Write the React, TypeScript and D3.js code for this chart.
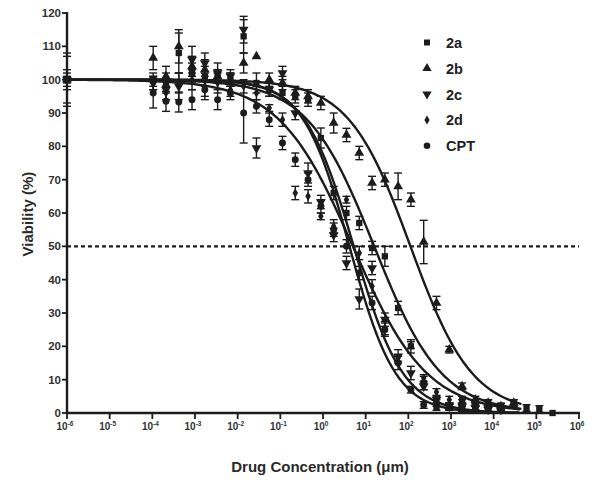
import React from "react";
import * as d3 from "d3";

// ---- data ----
const seriesNames = ["2a", "2b", "2c", "2d", "CPT"];

const log2a = [-6, -3.98, -3.68, -3.38, -3.07, -2.77, -2.47, -2.17, -1.86, -1.56, -1.26, -0.95, -0.65, -0.35, -0.05, 0.25, 0.55, 0.85, 1.15, 1.45, 1.76, 2.06, 2.36, 2.66, 2.96, 3.26, 3.57, 3.87, 4.17, 4.47, 4.77, 5.07, 5.38];
const val2a = [100, 100, 99, 108, 102, 101, 101, 100, 113, 99, 97, 96, 95, 94, 82.5, 66, 60, 57, 49.5, 47, 31.5, 20, 9, 1.8, 1.8, 4, 3, 3, 1.8, 3, 1.5, 1.2, 0];
const sem2a = [7, 2, 3, 6, 3, 3, 2, 2, 5, 3, 2, 2, 2, 2, 3, 2, 2, 2, 2, 3, 2, 2, 2, 1, 1, 1, 1, 1, 1, 1, 1, 1, 0.5];

const log2b = [-6, -3.98, -3.68, -3.38, -3.07, -2.77, -2.47, -2.17, -1.86, -1.56, -1.26, -0.95, -0.65, -0.35, -0.05, 0.25, 0.55, 0.85, 1.15, 1.45, 1.76, 2.06, 2.36, 2.66, 2.96, 3.26, 3.57, 3.87, 4.17, 4.47];
const val2b = [100, 106.5, 101, 110, 104, 103, 101, 100, 105, 107, 100, 99, 96, 95, 93, 87, 83.4, 78, 69, 70, 68, 64, 51.3, 33, 19, 8, 4, 3, 2, 3];
const sem2b = [2, 3.5, 3, 5, 3, 3, 2, 2, 3, 0, 2, 2, 2, 2, 2, 3, 2, 2, 2, 2, 4, 2, 6.5, 2, 1, 1, 1, 1, 1, 1];

const log2c = [-6, -3.98, -3.68, -3.38, -3.07, -2.77, -2.47, -2.17, -1.86, -1.56, -1.26, -0.95, -0.65, -0.35, -0.05, 0.25, 0.55, 0.85, 1.15, 1.45, 1.76, 2.06, 2.36, 2.66, 2.96, 3.26, 3.57, 3.87, 4.17];
const val2c = [100, 99, 97, 98, 106, 105, 102, 101, 115, 79.5, 97, 102, 90, 72, 63.3, 53.4, 45, 34.2, 43.5, 28, 17, 12, 8, 4, 2, 2, 1.5, 1, 1];
const sem2c = [3, 2, 3, 4, 4, 3, 3, 2, 4, 3, 2, 2, 2, 3, 2, 2, 2, 3, 2, 2, 2, 2, 1, 1, 1, 1, 1, 1, 1];

const log2d = [-6, -3.98, -3.68, -3.38, -3.07, -2.77, -2.47, -2.17, -1.86, -1.56, -1.26, -0.95, -0.65, -0.35, -0.05, 0.25, 0.55, 0.85, 1.15, 1.45, 1.76, 2.06, 2.36, 2.66, 2.96, 3.26, 3.57, 3.87, 4.17];
const val2d = [100, 99, 96, 99, 100, 98, 99, 97, 98, 96, 91.5, 88, 66, 65, 59, 56, 64, 48, 38, 25.5, 16.5, 20.4, 10.5, 6.3, 4, 3, 2, 1.5, 1];
const sem2d = [8, 2, 2, 3, 3, 3, 3, 2, 2, 2, 1, 2, 2, 2, 1, 2, 1, 2, 2, 2, 1, 1, 1, 1, 1, 1, 1, 1, 1];

const logCPT = [-6, -3.98, -3.68, -3.38, -3.07, -2.77, -2.47, -2.17, -1.86, -1.56, -1.26, -0.95, -0.65, -0.35, -0.05, 0.25, 0.55, 0.85, 1.15, 1.45, 1.76, 2.06, 2.36, 2.66, 2.96, 3.26, 3.57, 3.87];
const valCPT = [100, 96, 93.5, 93.3, 94, 97, 94, 96, 90, 92, 88, 81, 76, 70, 62, 55, 50, 42, 33, 25, 15, 7, 2.4, 3, 2, 1.5, 1, 1];
const semCPT = [1, 4.5, 3, 3, 3, 3, 3, 2, 9, 2, 2, 2, 2, 2, 2, 2, 2, 2, 2, 2, 2, 1, 1, 1, 1, 1, 1, 1];

// fitted dose-response parameters (log10 IC50, Hill slope, last log10 concentration of fit)
const fitLogIC50 = [1.2, 2.05, 0.62, 0.72, 0.7];
const fitHill = [0.55, 0.6, 0.8, 0.75, 0.5];
const fitEndLog = [4.65, 4.65, 4.6, 4.6, 4.62];

const xTickExps = [-6, -5, -4, -3, -2, -1, 0, 1, 2, 3, 4, 5, 6];
const yTicks = [0, 10, 20, 30, 40, 50, 60, 70, 80, 90, 100, 110, 120];

const xTitle = "Drug Concentration (\u03bcm)";
const yTitle = "Viability (%)";

const allLogs = [log2a, log2b, log2c, log2d, logCPT];
const allVals = [val2a, val2b, val2c, val2d, valCPT];
const allSems = [sem2a, sem2b, sem2c, sem2d, semCPT];

const INK = "#1c1c1c";
const FONT = "Liberation Sans, Arial, sans-serif";

const x = d3.scaleLog().domain([1e-6, 1e6]).range([67, 579]);
const y = d3.scaleLinear().domain([0, 120]).range([413, 13]);

const symbolDefs = [
  { type: d3.symbolSquare, size: 40, rot: 0 },
  { type: d3.symbolTriangle, size: 42, rot: 0 },
  { type: d3.symbolTriangle, size: 42, rot: 180 },
  { type: d3.symbolDiamond, size: 26, rot: 0 },
  { type: d3.symbolCircle, size: 38, rot: 0 },
];

function hillCurve(i: number) {
  const pts: [number, number][] = [];
  const start = -6;
  const end = fitEndLog[i];
  const n = 300;
  for (let k = 0; k <= n; k++) {
    const lx = start + ((end - start) * k) / n;
    const v = 100 / (1 + Math.pow(10, fitHill[i] * (lx - fitLogIC50[i])));
    pts.push([x(Math.pow(10, lx)), y(v)]);
  }
  return d3.line()(pts) || "";
}

export default function App() {
  const sym = (i: number, scale = 1) =>
    d3.symbol().type(symbolDefs[i].type).size(symbolDefs[i].size * scale)() || "";
  return (
    <svg width={601} height={491} style={{ position: "absolute", left: 0, top: 0, background: "#fff" }} fontFamily={FONT}>
      <rect x={0} y={0} width={601} height={491} fill="#fff" />
      {/* dashed 50% line */}
      <line x1={x(1e-6)} x2={x(1e6)} y1={y(50)} y2={y(50)} stroke={INK} strokeWidth={2.2} strokeDasharray="4,3" />

      {/* fit curves */}
      {seriesNames.map((_, i) => (
        <path key={"c" + i} d={hillCurve(i)} fill="none" stroke={INK} strokeWidth={2.4} />
      ))}

      {/* error bars and points */}
      {seriesNames.map((_, i) => (
        <g key={"s" + i}>
          {allLogs[i].map((lx, j) => {
            const cx = x(Math.pow(10, lx));
            const v = allVals[i][j];
            const s = allSems[i][j];
            const cy = y(v);
            return (
              <g key={j}>
                {s > 0.6 && (
                  <g stroke={INK} strokeWidth={1.4}>
                    <line x1={cx} x2={cx} y1={y(v - s)} y2={y(v + s)} />
                    <line x1={cx - 4} x2={cx + 4} y1={y(v - s)} y2={y(v - s)} />
                    <line x1={cx - 4} x2={cx + 4} y1={y(v + s)} y2={y(v + s)} />
                  </g>
                )}
                <path d={sym(i)} transform={`translate(${cx},${cy}) rotate(${symbolDefs[i].rot})`} fill={INK} />
              </g>
            );
          })}
        </g>
      ))}

      {/* axes */}
      <line x1={67} x2={67} y1={y(120) - 1} y2={y(0) + 1} stroke={INK} strokeWidth={2.4} />
      <line x1={66} x2={x(1e6) + 1} y1={y(0)} y2={y(0)} stroke={INK} strokeWidth={2.4} />
      {yTicks.map((t) => (
        <g key={"yt" + t}>
          <line x1={62} x2={67} y1={y(t)} y2={y(t)} stroke={INK} strokeWidth={1.8} />
          <text x={61} y={y(t) + 4} textAnchor="end" fontSize={11.5} fontWeight="bold" fill="#333">{t}</text>
        </g>
      ))}
      {xTickExps.map((e) => (
        <g key={"xt" + e}>
          <line x1={x(Math.pow(10, e))} x2={x(Math.pow(10, e))} y1={y(0)} y2={y(0) + 6} stroke={INK} strokeWidth={1.8} />
          <text x={x(Math.pow(10, e)) - 2} y={y(0) + 17} textAnchor="middle" fontSize={10} fontWeight="bold" fill="#333">
            10<tspan dy={-4} fontSize={6.5}>{e}</tspan>
          </text>
        </g>
      ))}

      {/* axis titles */}
      <text x={320} y={472} textAnchor="middle" fontSize={15} fontWeight="bold" fill="#2a2a2a">{xTitle}</text>
      <text transform="translate(33,214) rotate(-90)" textAnchor="middle" fontSize={15} fontWeight="bold" fill="#2a2a2a">{yTitle}</text>

      {/* legend */}
      {seriesNames.map((n, i) => {
        const ly = 42.5 + i * 25.8;
        return (
          <g key={"lg" + n}>
            <path d={sym(i, 0.9)} transform={`translate(427,${ly}) rotate(${symbolDefs[i].rot})`} fill={INK} />
            <text x={446} y={ly + 5.5} fontSize={14.5} fontWeight="bold" fill="#222">{n}</text>
          </g>
        );
      })}
    </svg>
  );
}
